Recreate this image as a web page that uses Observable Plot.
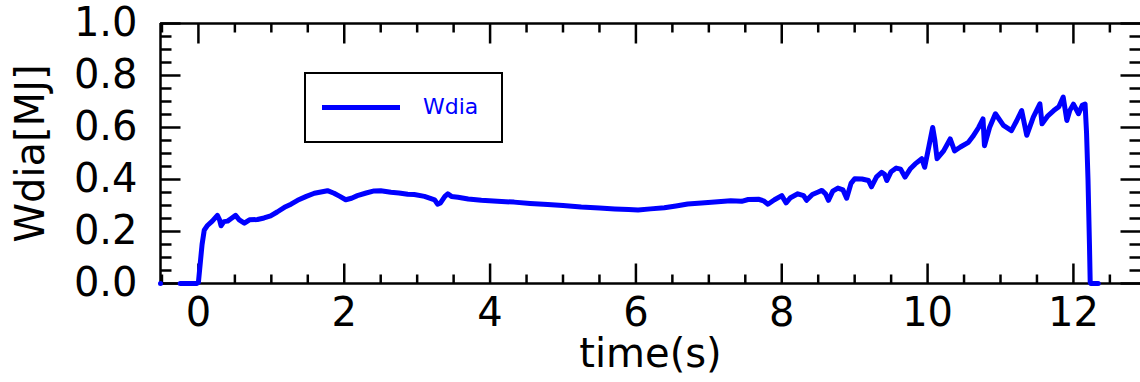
<!DOCTYPE html>
<html>
<head>
<meta charset="utf-8">
<script src="https://cdn.jsdelivr.net/npm/d3@7"></script>
<script src="https://cdn.jsdelivr.net/npm/@observablehq/plot@0.6"></script>
<style>
  html, body { margin: 0; padding: 0; background: #fff; }
  #wrap { position: relative; width: 1140px; height: 382px; overflow: hidden; }
  #wrap svg { display: block; }
  #legend { position: absolute; left: 304px; top: 72px; width: 195px; height: 67px;
            border: 2px solid #000; background: #fff; box-sizing: content-box; }
  #legend .swatch { position: absolute; left: 16px; top: 31px; width: 78px; height: 5px; background: #0000ff; }
  #legend .lab { position: absolute; left: 117px; top: 20px; font: 22px "DejaVu Sans", sans-serif; color: #0000ff; line-height: 26px; }
</style>
</head>
<body>
<div id="wrap"></div>
<script>
// ---- data ----
const time = [-0.52, null, -0.25, -0.02, 0.0, 0.05, 0.08, 0.12, 0.19, 0.26, 0.29, 0.31, 0.35, 0.40, 0.45, 0.51, 0.56, 0.63, 0.70, 0.81, 0.90, 0.99,
  1.08, 1.18, 1.27, 1.36, 1.48, 1.59, 1.68, 1.77, 1.86, 1.94, 2.02, 2.10, 2.18, 2.30, 2.41, 2.50, 2.64, 2.75, 2.87, 2.96,
  3.10, 3.24, 3.28, 3.32, 3.38, 3.42, 3.47, 3.56, 3.70, 3.88, 4.10, 4.33, 4.55, 4.79, 5.00, 5.25, 5.50, 5.71, 5.90, 6.03,
  6.20, 6.39, 6.55, 6.71, 6.90, 7.08, 7.30, 7.45, 7.54, 7.68, 7.75, 7.81, 7.90, 8.00, 8.06, 8.12, 8.22, 8.30, 8.34, 8.42,
  8.50, 8.55, 8.60, 8.64, 8.70, 8.77, 8.84, 8.89, 8.95, 9.00, 9.10, 9.19, 9.23, 9.30, 9.37, 9.41, 9.44, 9.50, 9.57, 9.63,
  9.69, 9.76, 9.83, 9.92, 9.96, 10.02, 10.07, 10.10, 10.13, 10.22, 10.31, 10.37, 10.45, 10.56, 10.62, 10.70, 10.76, 10.78,
  10.85, 10.93, 11.04, 11.15, 11.22, 11.29, 11.36, 11.45, 11.54, 11.57, 11.65, 11.73, 11.80, 11.86, 11.91, 11.95, 12.00,
  12.07, 12.12, 12.16, 12.18, 12.20, 12.22, 12.23, 12.24, 12.34];
const wdia = [0, null, 0, 0, 0.005, 0.15, 0.205, 0.222, 0.24, 0.262, 0.245, 0.222, 0.238, 0.24, 0.25, 0.262, 0.245, 0.232, 0.245, 0.246, 0.252, 0.26,
  0.275, 0.293, 0.305, 0.32, 0.335, 0.347, 0.352, 0.357, 0.347, 0.335, 0.322, 0.328, 0.338, 0.348, 0.356, 0.357, 0.351, 0.348, 0.343, 0.342,
  0.335, 0.322, 0.305, 0.31, 0.335, 0.345, 0.335, 0.332, 0.325, 0.32, 0.316, 0.313, 0.308, 0.304, 0.300, 0.294, 0.290, 0.287, 0.285, 0.283,
  0.287, 0.291, 0.298, 0.306, 0.310, 0.313, 0.318, 0.316, 0.323, 0.324, 0.318, 0.305, 0.322, 0.338, 0.31, 0.330, 0.345, 0.338, 0.32, 0.342,
  0.352, 0.358, 0.345, 0.32, 0.355, 0.367, 0.36, 0.328, 0.385, 0.403, 0.402, 0.396, 0.372, 0.41, 0.428, 0.42, 0.396, 0.43, 0.444, 0.44,
  0.409, 0.44, 0.46, 0.48, 0.447, 0.53, 0.60, 0.55, 0.48, 0.51, 0.556, 0.51, 0.525, 0.543, 0.565, 0.60, 0.633, 0.53,
  0.60, 0.653, 0.608, 0.588, 0.625, 0.665, 0.57, 0.64, 0.691, 0.614, 0.645, 0.665, 0.68, 0.717, 0.627, 0.665, 0.69,
  0.653, 0.685, 0.69, 0.58, 0.40, 0.15, 0.005, 0, 0];

const xDomain = [-0.52, 12.92];
const yDomain = [0, 1];
const xMajor = [0, 2, 4, 6, 8, 10, 12];
const xMinor = [-0.5, 0.5, 1, 1.5, 2.5, 3, 3.5, 4.5, 5, 5.5, 6.5, 7, 7.5, 8.5, 9, 9.5, 10.5, 11, 11.5, 12.5];
const yMajor = [0, 0.2, 0.4, 0.6, 0.8, 1.0];
const yMinor = [0.05, 0.1, 0.15, 0.25, 0.3, 0.35, 0.45, 0.5, 0.55, 0.65, 0.7, 0.75, 0.85, 0.9, 0.95];
const xLabel = "time(s)";
const yLabel = "Wdia[MJ]";
const seriesName = "Wdia";

const table = time.map((t, i) => ({t, w: wdia[i]}));

const tickShape = {draw(ctx, l) { ctx.moveTo(0, 0); ctx.lineTo(0, -l); }};
const tk = (o) => ({shape: tickShape, anchor: "start", stroke: "#000", strokeWidth: 2.5, strokeLinecap: "butt", ...o});

const chart = Plot.plot({
  width: 1140,
  height: 382,
  marginLeft: 160,
  marginRight: 0,
  marginTop: 23,
  marginBottom: 99,
  style: {fontFamily: "'DejaVu Sans', sans-serif", fontSize: "40px", color: "#000", background: "#fff"},
  x: {domain: xDomain},
  y: {domain: yDomain},
  marks: [
    Plot.axisX(xMajor, {tickSize: 0, tickPadding: 14, tickFormat: d => String(d), label: null, fontSize: 40}),
    Plot.axisY(yMajor, {tickSize: 0, tickPadding: 23, tickFormat: d3.format(".1f"), label: null, fontSize: 40}),
    Plot.vectorX(xMajor, tk({x: d => d, frameAnchor: "bottom", rotate: 0, length: 20})),
    Plot.vectorX(xMinor, tk({x: d => d, frameAnchor: "bottom", rotate: 0, length: 9})),
    Plot.vectorX(xMajor, tk({x: d => d, frameAnchor: "top", rotate: 180, length: 20})),
    Plot.vectorX(xMinor, tk({x: d => d, frameAnchor: "top", rotate: 180, length: 9})),
    Plot.vectorY(yMajor, tk({y: d => d, frameAnchor: "left", rotate: 90, length: 20})),
    Plot.vectorY(yMinor, tk({y: d => d, frameAnchor: "left", rotate: 90, length: 11})),
    Plot.vectorY(yMajor, tk({y: d => d, frameAnchor: "right", rotate: -90, length: 20})),
    Plot.vectorY(yMinor, tk({y: d => d, frameAnchor: "right", rotate: -90, length: 11})),
    Plot.ruleY(yDomain, {stroke: "#000", strokeWidth: 2.5}),
    Plot.ruleX([xDomain[0]], {stroke: "#000", strokeWidth: 2.5}),
    Plot.line(table, {x: "t", y: "w", stroke: "#0000ff", strokeWidth: 5, strokeLinejoin: "round"}),
    Plot.text([xLabel], {text: d => d, frameAnchor: "bottom", dy: 83, lineAnchor: "bottom", textAnchor: "middle", fontSize: 40, fill: "#000"}),
    Plot.text([yLabel], {text: d => d, frameAnchor: "left", dx: -117, rotate: -90, lineAnchor: "bottom", textAnchor: "middle", fontSize: 40, fill: "#000"})
  ]
});

const wrap = document.getElementById("wrap");
wrap.appendChild(chart);
const legend = document.createElement("div");
legend.id = "legend";
legend.innerHTML = `<div class="swatch"></div><div class="lab">${seriesName}</div>`;
wrap.appendChild(legend);
</script>
</body>
</html>
